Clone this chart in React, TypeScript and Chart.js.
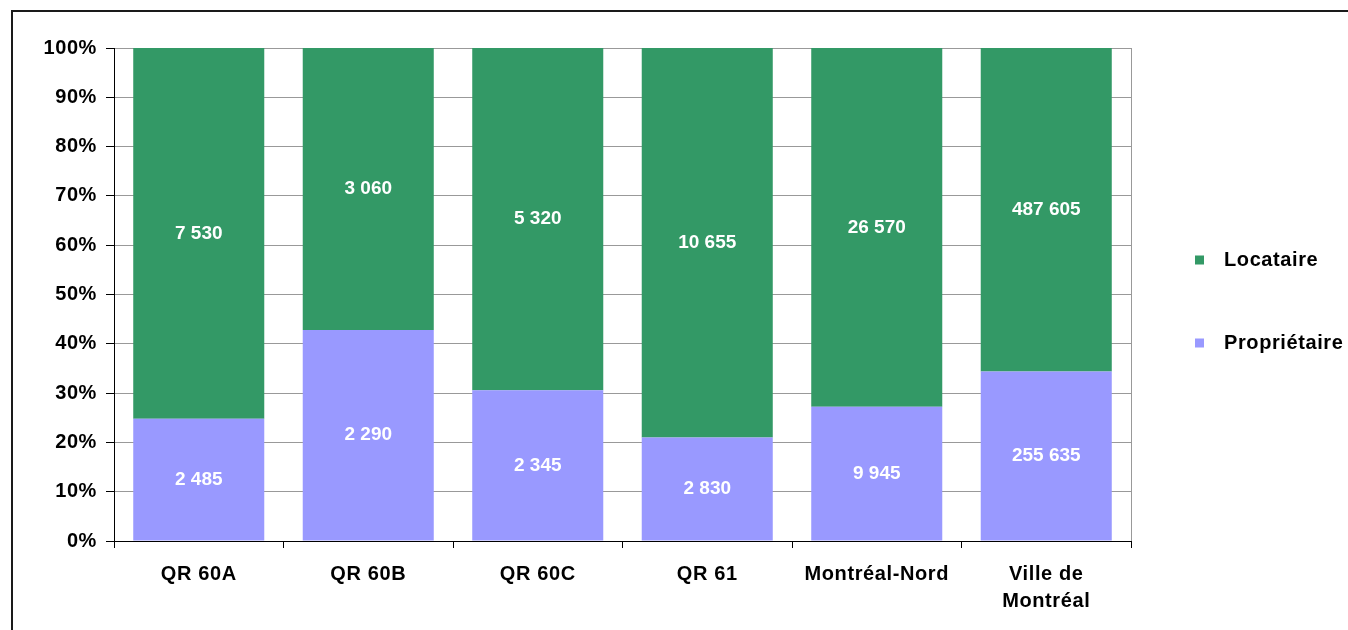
import React, { useEffect, useRef } from 'react';
import { Chart, registerables } from 'chart.js';

Chart.register(...registerables);

const categories: (string | string[])[] = ['QR 60A', 'QR 60B', 'QR 60C', 'QR 61', 'Montréal-Nord', ['Ville de', 'Montréal']];
const seriesNames = ['Propriétaire', 'Locataire'];
const proprietaire = [2485, 2290, 2345, 2830, 9945, 255635];
const locataire = [7530, 3060, 5320, 10655, 26570, 487605];
const seriesColors = ['#9999FF', '#339966'];

const FONT = "'Liberation Sans', Arial, sans-serif";

function fmt(n: number): string {
  return String(n).replace(/\B(?=(\d{3})+(?!\d))/g, ' ');
}

export default function App() {
  const ref = useRef<HTMLCanvasElement | null>(null);

  useEffect(() => {
    if (!ref.current) return;
    const rawCounts = [proprietaire, locataire];
    const totals = proprietaire.map((p, i) => p + locataire[i]);
    const pct = rawCounts.map((arr) => arr.map((v, i) => (v / totals[i]) * 100));

    const spacingPlugin = {
      id: 'spacing',
      beforeDraw(chart: any) {
        (chart.ctx as any).letterSpacing = '0.6px';
      },
    };

    const plotBorder = {
      id: 'plotBorder',
      beforeDatasetsDraw(chart: any) {
        const { ctx, chartArea } = chart;
        ctx.save();
        ctx.strokeStyle = '#999999';
        ctx.lineWidth = 1;
        ctx.beginPath();
        const x = Math.round(chartArea.right) + 0.5;
        ctx.moveTo(x, chartArea.top);
        ctx.lineTo(x, chartArea.bottom);
        ctx.stroke();
        ctx.restore();
      },
    };

    const dataLabels = {
      id: 'dataLabels',
      afterDatasetsDraw(chart: any) {
        const { ctx } = chart;
        ctx.save();
        (ctx as any).letterSpacing = '0px';
        ctx.font = `bold 19px ${FONT}`;
        ctx.fillStyle = '#ffffff';
        ctx.textAlign = 'center';
        ctx.textBaseline = 'middle';
        chart.data.datasets.forEach((ds: any, di: number) => {
          const meta = chart.getDatasetMeta(di);
          meta.data.forEach((el: any, i: number) => {
            const cy = (el.y + el.base) / 2;
            ctx.fillText(fmt(ds.raw[i]), el.x, cy);
          });
        });
        ctx.restore();
      },
    };

    const legendPlugin = {
      id: 'customLegend',
      afterDraw(chart: any) {
        const { ctx, chartArea } = chart;
        const items = chart.data.datasets.slice().reverse();
        ctx.save();
        ctx.font = `bold 20px ${FONT}`;
        ctx.textAlign = 'left';
        ctx.textBaseline = 'middle';
        items.forEach((ds: any, i: number) => {
          const cy = chartArea.top + 212 + i * 83;
          const sx = chartArea.right + 64;
          ctx.fillStyle = ds.backgroundColor;
          ctx.fillRect(sx, cy - 4.5, 9, 9);
          ctx.fillStyle = '#000000';
          ctx.fillText(ds.label, chartArea.right + 93, cy);
        });
        ctx.restore();
      },
    };

    const chart = new Chart(ref.current, {
      type: 'bar',
      data: {
        labels: categories as any,
        datasets: seriesNames.map((name, di) => ({
          label: name,
          data: pct[di],
          raw: rawCounts[di],
          backgroundColor: seriesColors[di],
          borderWidth: 0,
          barPercentage: 1,
          categoryPercentage: 0.773,
        })) as any,
      },
      options: {
        animation: false,
        responsive: true,
        maintainAspectRatio: false,
        layout: { padding: { top: 48, right: 217, left: 0, bottom: 0 } },
        plugins: {
          legend: { display: false },
          tooltip: { enabled: false },
          title: { display: false },
        },
        scales: {
          x: {
            stacked: true,
            offset: true,
            grid: {
              display: true,
              drawOnChartArea: false,
              drawTicks: true,
              tickLength: 7,
              offset: true,
              color: '#000000',
              tickColor: '#000000',
            },
            border: { display: true, color: '#000000', width: 1 },
            ticks: {
              color: '#000000',
              font: { family: FONT, size: 20, weight: 'bold', lineHeight: 1.35 },
              padding: 13,
              maxRotation: 0,
              autoSkip: false,
            },
            afterFit(scale: any) {
              scale.height = 89;
            },
          },
          y: {
            stacked: true,
            min: 0,
            max: 100,
            grid: {
              color: '#999999',
              tickColor: '#000000',
              tickLength: 8,
              lineWidth: 1,
            },
            border: { display: true, color: '#000000', width: 1 },
            ticks: {
              stepSize: 10,
              color: '#000000',
              font: { family: FONT, size: 20, weight: 'bold' },
              padding: 9,
              callback: (v: any) => `${v}%`,
            },
            afterFit(scale: any) {
              scale.width = 114;
            },
          },
        },
      } as any,
      plugins: [spacingPlugin, plotBorder, dataLabels, legendPlugin],
    });
    chart.draw();

    return () => chart.destroy();
  }, []);

  return (
    <div style={{ position: 'fixed', left: 0, top: 0, width: 1348, height: 630, overflow: 'hidden', background: '#ffffff' }}>
      <div
        style={{
          position: 'absolute',
          left: 11,
          top: 10,
          width: 1400,
          height: 700,
          borderLeft: '2px solid #1a1a1a',
          borderTop: '2px solid #1a1a1a',
        }}
      />
      <div style={{ position: 'absolute', left: 0, top: 0, width: 1348, height: 630 }}>
        <canvas ref={ref} />
      </div>
    </div>
  );
}
